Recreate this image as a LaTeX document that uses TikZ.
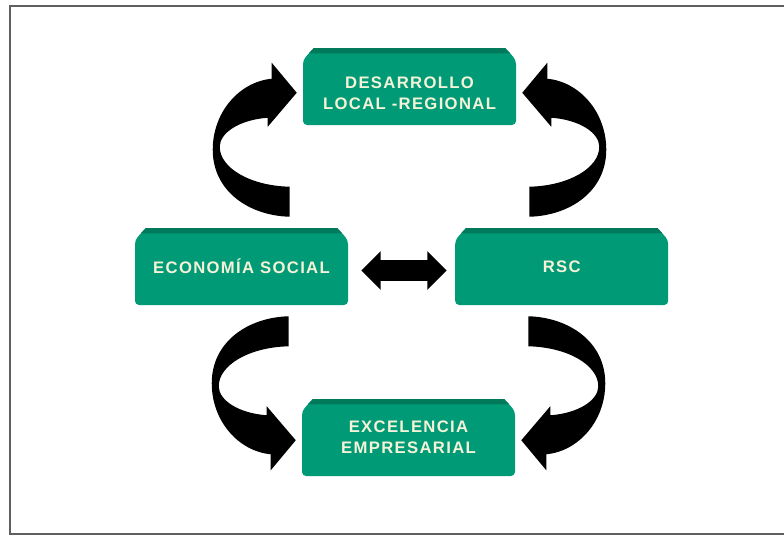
\documentclass[tikz,border=0pt]{standalone}
\usepackage{fontspec}
\newfontfamily\cajafont[LetterSpace=8]{Liberation Sans}
\usetikzlibrary{positioning,shapes.arrows}
\definecolor{verde}{RGB}{0,155,118}
\definecolor{verdeosc}{RGB}{0,122,90}
\definecolor{crema}{RGB}{244,242,216}
\definecolor{marco}{RGB}{95,95,95}

\newcommand{\flechacurva}{%
  \fill (290,217) .. controls (250,216) and (213,192) .. (213,150)
    .. controls (213,112) and (240,82) .. (272,79) -- (272,63) -- (297,93)
    -- (268,127) -- (268,118) .. controls (240,120) and (220,133) .. (220,147)
    .. controls (220,168) and (250,186) .. (290,187) -- cycle;}
\newcommand{\bajar}[1]{\raisebox{-5pt}[\height][\depth]{#1}}

\begin{document}
\begin{tikzpicture}[x=0.75pt,y=-0.75pt,
    caja/.style={minimum width=159.75pt, minimum height=57.75pt, inner sep=0pt,
      align=center, text=crema, font=\cajafont\bfseries\fontsize{12.5}{16}\selectfont,
      path picture={
        \fill[verde, rounded corners=3pt] (path picture bounding box.south west)
          -- ([yshift=-9pt]path picture bounding box.north west)
          -- ([xshift=8pt]path picture bounding box.north west)
          -- ([xshift=-8pt]path picture bounding box.north east)
          -- ([yshift=-9pt]path picture bounding box.north east)
          -- (path picture bounding box.south east) -- cycle;
        \fill[verdeosc] ([xshift=8pt]path picture bounding box.north west)
          -- ([xshift=-8pt]path picture bounding box.north east)
          -- ([xshift=-4.4pt,yshift=-4pt]path picture bounding box.north east)
          -- ([xshift=4.4pt,yshift=-4pt]path picture bounding box.north west) -- cycle;
      }},
    doble/.style={double arrow, fill=black, inner xsep=0pt, inner ysep=7.5pt,
      minimum height=64pt, double arrow head extend=6.75pt}]
  \useasboundingbox (0,0) rectangle (784,536);
  \draw[marco, line width=1.6pt] (10,6) rectangle (800,534);

  \node[caja] (desarrollo) at (409.5,86.5) {\bajar{DESARROLLO}\\\bajar{LOCAL -REGIONAL}};
  \node[caja] (economia) at (241.5,266.5) {ECONOMÍA SOCIAL};
  \node[caja, right=80pt of economia] (rsc) {RSC};
  \node[caja] (excelencia) at (408.5,437.5) {EXCELENCIA\\EMPRESARIAL};
  \node[doble, right=9.5pt of economia, yshift=-3pt] (ida) {};

  \begin{scope}[shift={(desarrollo.west |- economia.north)}, shift={(-303,-228)}]
    \flechacurva
  \end{scope}
  \begin{scope}[shift={(desarrollo.east |- rsc.north)}, xscale=-1, shift={(-303,-228)}]
    \flechacurva
  \end{scope}
  \begin{scope}[shift={(excelencia.west |- economia.south)}, yscale=-1, shift={(-303,-228)}]
    \flechacurva
  \end{scope}
  \begin{scope}[shift={(excelencia.east |- rsc.south)}, xscale=-1, yscale=-1, shift={(-303,-228)}]
    \flechacurva
  \end{scope}
\end{tikzpicture}
\end{document}
